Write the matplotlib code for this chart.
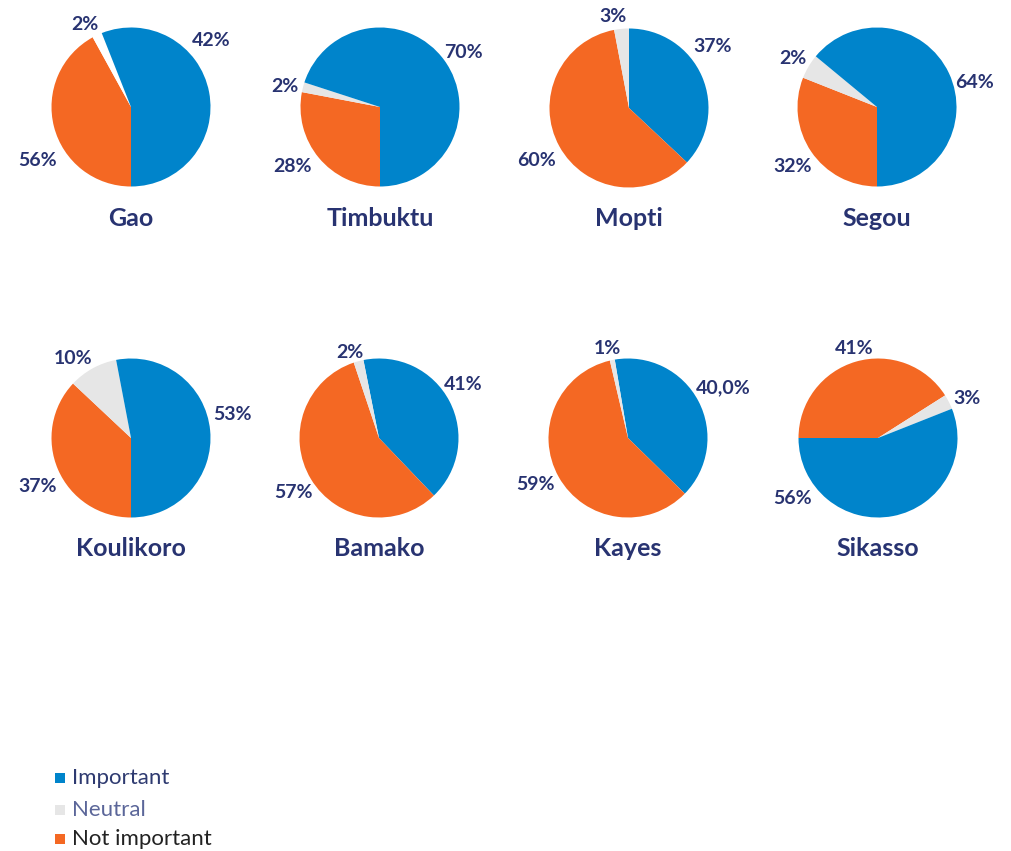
import matplotlib.pyplot as plt

# survey data per region (slice sizes)
regions = ["Gao", "Timbuktu", "Mopti", "Segou", "Koulikoro", "Bamako", "Kayes", "Sikasso"]
important = [56, 70, 37, 64, 53, 41, 40, 56]
neutral = [2, 2, 3, 5, 10, 2, 1, 3]
not_important = [42, 28, 60, 31, 37, 57, 59, 41]

# data labels as printed on the chart
important_labels = ["42%", "70%", "37%", "64%", "53%", "41%", "40,0%", "56%"]
neutral_labels = ["2%", "2%", "3%", "2%", "10%", "2%", "1%", "3%"]
not_important_labels = ["56%", "28%", "60%", "32%", "37%", "57%", "59%", "41%"]

# layout (pixels, origin top-left)
W, H = 1011, 851
centers = [(131, 107), (380, 107), (629, 108), (877, 107),
           (131, 438), (379, 438), (628, 438), (878, 438)]
radius = 79.5
start_angles = [-90, -90, 90, -90, -90, 101.3, 99.6, 180]
# i = important, n = neutral, b = not important (clockwise drawing order)
slice_order = ["bni", "bni", "ibn", "bni", "bni", "ibn", "ibn", "bni"]
label_pos = [
    {"i": (211, 41), "n": (85, 25), "b": (38, 160)},
    {"i": (463, 53), "n": (285, 86), "b": (293, 166)},
    {"i": (713, 46), "n": (613, 17), "b": (537, 160)},
    {"i": (975, 82), "n": (793, 58), "b": (793, 166)},
    {"i": (232, 415), "n": (73, 359), "b": (38, 487)},
    {"i": (463, 385), "n": (350, 353), "b": (293, 493)},
    {"i": (723, 388), "n": (607, 348), "b": (535, 485)},
    {"i": (793, 498), "n": (967, 398), "b": (854, 348)},
]

BLUE = "#0084CB"
ORANGE = "#F46823"
GREY = "#E6E6E6"
NAVY = "#283371"

fig = plt.figure(figsize=(W / 100, H / 100), dpi=100)
ax = fig.add_axes([0, 0, 1, 1])

for k, region in enumerate(regions):
    vals = {"i": important[k], "n": neutral[k], "b": not_important[k]}
    labels = {"i": important_labels[k], "n": neutral_labels[k], "b": not_important_labels[k]}
    cols = {"i": BLUE, "n": "white" if region == "Gao" else GREY, "b": ORANGE}
    order = list(slice_order[k])
    cx, cy = centers[k]
    ax.pie([vals[c] for c in order], colors=[cols[c] for c in order],
           center=(cx, H - cy), radius=radius, startangle=start_angles[k],
           counterclock=False, wedgeprops={"linewidth": 0}, frame=True)
    for c in order:
        x, y = label_pos[k][c]
        ax.text(x, H - y, labels[c], ha="center", va="center", fontsize=14,
                fontweight="bold", family="Lato", color=NAVY)
    ax.text(cx, H - (cy + 111), region, ha="center", va="center", fontsize=18,
            fontweight="bold", family="Lato", color=NAVY)

ax.set_xlim(0, W)
ax.set_ylim(0, H)
ax.set_aspect("equal")
ax.axis("off")

# legend
legend_items = [("Important", BLUE, "#2E3A70", 778),
                ("Neutral", GREY, "#5B6699", 810),
                ("Not important", ORANGE, "#222222", 839)]
for name, col, tcol, y in legend_items:
    ax.scatter([60], [H - y], marker="s", s=60, color=col, linewidths=0)
    ax.text(72, H - y, name, ha="left", va="center", fontsize=16,
            family="Lato", color=tcol)

fig.savefig("out.png", dpi=100)
